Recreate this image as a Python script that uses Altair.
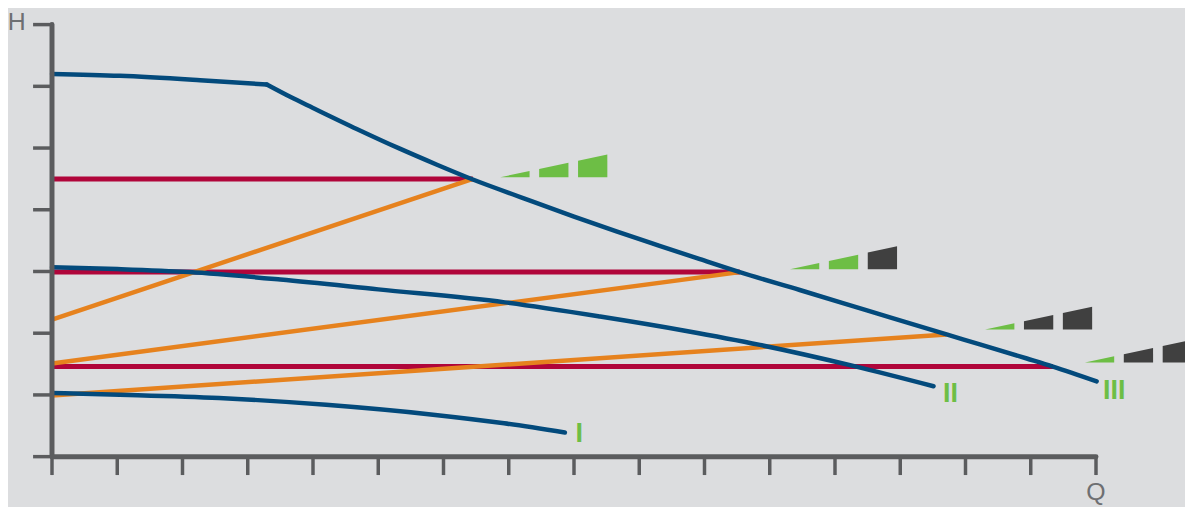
import altair as alt
import pandas as pd

# ---------------- data ----------------
x_ticks = list(range(0, 17))
y_ticks = list(range(0, 8))

curve_I_q = [0, 1.18, 2.56, 4.20, 5.84, 6.93, 7.86]
curve_I_h = [1.03, 1.00, 0.95, 0.84, 0.68, 0.54, 0.39]

curve_II_q = [0, 1.0, 2.1, 3.5, 5.0, 6.94, 8.4, 9.7, 10.85, 12.28, 13.51]
curve_II_h = [3.07, 3.04, 2.99, 2.87, 2.71, 2.50, 2.27, 2.04, 1.81, 1.47, 1.14]

# flat part of curve III (up to the knee) and falling part
curve_III_flat_q = [0, 1.04, 2.27, 3.29]
curve_III_flat_h = [6.20, 6.17, 6.10, 6.03]
curve_III_fall_q = [3.29, 3.65, 4.00, 4.67, 5.33, 5.90, 6.45, 7.22, 8.00, 8.65, 9.30, 9.93,
                    10.54, 11.46, 12.49, 13.71, 14.22, 14.94, 15.34, 16.01]
curve_III_fall_h = [6.03, 5.83, 5.65, 5.31, 4.99, 4.73, 4.49, 4.19, 3.89, 3.65, 3.42, 3.20,
                    2.99, 2.70, 2.37, 1.98, 1.82, 1.59, 1.46, 1.22]

# constant-pressure lines
const_h = [4.50, 2.99, 1.46]
const_end_q = [6.45, 10.54, 15.34]

# proportional-pressure lines
prop_start_h = [2.22, 1.51, 0.99]
prop_end_q = [6.45, 10.54, 13.71]
prop_end_h = [4.50, 2.99, 1.98]

# speed indicators (start Q, base H, number of green segments)
ind_q = [6.87, 11.31, 14.30, 15.83]
ind_h = [4.527, 3.037, 2.06, 1.524]
ind_green = [3, 2, 1, 1]

labels = ["I", "II", "III"]
label_q = [8.08, 13.77, 16.28]
label_h = [0.241, 0.885, 0.941]

axis_titles = ["H", "Q"]
axis_title_q = [-0.541, 16.0]
axis_title_h = [6.920, -0.703]

# ---------------- styling ----------------
BG = "#dcdddf"
AXIS = "#5b5c5e"
BLUE = "#034a7c"
RED = "#b0053a"
ORANGE = "#e6821e"
GREEN = "#6dbe45"
DARK = "#404040"
TXT = "#6e6f72"

XDOM = [-0.6743, 17.364]
YDOM = [-0.7885, 7.2417]
W, H = 1185, 499

xs = alt.Scale(domain=XDOM, nice=False, zero=False)
ys = alt.Scale(domain=YDOM, nice=False, zero=False)

SEG_W, SEG_GAP, IND_H = 0.449, 0.147, 0.37
TICK_LEN_Y, TICK_LEN_X = 0.29, 0.298

# ---------------- tables ----------------
curves = pd.concat([
    pd.DataFrame({"q": curve_I_q, "h": curve_I_h, "c": "I"}),
    pd.DataFrame({"q": curve_II_q, "h": curve_II_h, "c": "II"}),
    pd.DataFrame({"q": curve_III_flat_q, "h": curve_III_flat_h, "c": "IIIa"}),
    pd.DataFrame({"q": curve_III_fall_q, "h": curve_III_fall_h, "c": "IIIb"}),
])

const_df = pd.DataFrame({"q": [0] * 3, "q2": const_end_q, "h": const_h})

prop_rows = []
for i in range(3):
    prop_rows.append({"q": 0, "h": prop_start_h[i], "id": i})
    prop_rows.append({"q": prop_end_q[i], "h": prop_end_h[i], "id": i})
prop_df = pd.DataFrame(prop_rows)

wedge_rows = []
total = 3 * SEG_W + 2 * SEG_GAP
for g in range(len(ind_q)):
    for s in range(3):
        x0 = ind_q[g] + s * (SEG_W + SEG_GAP)
        x1 = x0 + SEG_W
        col = GREEN if s < ind_green[g] else DARK
        sid = f"{g}-{s}"
        for xx in (x0, x1):
            wedge_rows.append({"q": xx, "top": ind_h[g] + IND_H * (xx - ind_q[g]) / total,
                               "base": ind_h[g], "id": sid, "fill": col})
wedge_df = pd.DataFrame(wedge_rows)

yaxis_df = pd.DataFrame({"q": [0], "h": [y_ticks[0]], "h2": [y_ticks[-1]]})
xaxis_df = pd.DataFrame({"q": [x_ticks[0]], "q2": [x_ticks[-1]], "h": [0]})
ytick_df = pd.DataFrame({"q": [-TICK_LEN_Y] * len(y_ticks), "q2": [0] * len(y_ticks), "h": y_ticks})
xtick_df = pd.DataFrame({"q": x_ticks, "h": [-TICK_LEN_X] * len(x_ticks), "h2": [0] * len(x_ticks)})

label_df = pd.DataFrame({"q": label_q, "h": label_h, "t": labels})
title_df = pd.DataFrame({"q": axis_title_q, "h": axis_title_h, "t": axis_titles})

X = lambda f="q": alt.X(f"{f}:Q", scale=xs, axis=None)
Y = lambda f="h": alt.Y(f"{f}:Q", scale=ys, axis=None)

# ---------------- layers ----------------
red = alt.Chart(const_df).mark_rule(color=RED, strokeWidth=5).encode(x=X(), x2="q2:Q", y=Y())
orange = alt.Chart(prop_df).mark_line(color=ORANGE, strokeWidth=4.5).encode(x=X(), y=Y(), detail="id:N")
blue = alt.Chart(curves).mark_line(color=BLUE, strokeWidth=4.5, strokeCap="round",
                                   strokeJoin="round", interpolate="monotone").encode(
    x=X(), y=Y(), detail="c:N")
wedges = alt.Chart(wedge_df).mark_area(interpolate="linear", opacity=1).encode(
    x=X(), y=alt.Y("top:Q", scale=ys, axis=None, stack=None), y2="base:Q",
    detail="id:N", color=alt.Color("fill:N", scale=None))

yaxis = alt.Chart(yaxis_df).mark_rule(color=AXIS, strokeWidth=5, strokeCap="round").encode(
    x=X(), y=Y(), y2="h2:Q")
xaxis = alt.Chart(xaxis_df).mark_rule(color=AXIS, strokeWidth=5, strokeCap="round").encode(
    x=X(), x2="q2:Q", y=Y())
yticks = alt.Chart(ytick_df).mark_rule(color=AXIS, strokeWidth=3.5).encode(x=X(), x2="q2:Q", y=Y())
xticks = alt.Chart(xtick_df).mark_rule(color=AXIS, strokeWidth=3.5).encode(x=X(), y=Y(), y2="h2:Q")

lbl = alt.Chart(label_df).mark_text(font="Liberation Sans", fontWeight="bold", fontSize=27,
                                    color=GREEN, align="center", baseline="alphabetic").encode(
    x=X(), y=Y(), text="t:N")
ttl = alt.Chart(title_df).mark_text(font="Liberation Sans", fontSize=25, color=TXT,
                                    align="center", baseline="alphabetic").encode(
    x=X(), y=Y(), text="t:N")

chart = alt.layer(red, orange, blue, wedges, yticks, xticks, yaxis, xaxis, lbl, ttl).properties(
    width=W, height=H, padding=0, autosize=alt.AutoSizeParams(type="none"),
).configure(background=BG).configure_view(stroke=None)

chart.save("out.html", embed_options={"renderer": "svg", "actions": False})
